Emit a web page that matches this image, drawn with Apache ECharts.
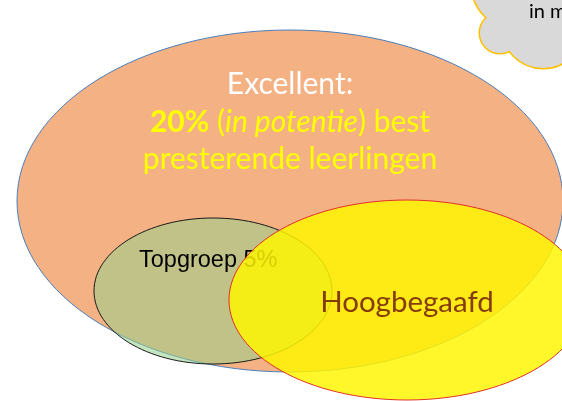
<!DOCTYPE html>
<html><head><meta charset="utf-8">
<script src="https://cdn.jsdelivr.net/npm/echarts@6/dist/echarts.min.js"></script>
<style>html,body{margin:0;padding:0;background:#fff}#c{width:562px;height:401px}</style>
</head><body><div id="c"></div>
<script>
// Sets of the diagram (ellipses): centre and radii in diagram units
const setNames   = ['Excellent', 'Topgroep', 'Hoogbegaafd'];
const setCenterX = [290, 213, 407];
const setCenterY = [201, 291, 300];
const setRadiusX = [273, 119, 178];
const setRadiusY = [171, 73, 100];
// Cloud (top right) bumps: centre x, centre y, radius
const cloudX = [515, 500, 543, 548];
const cloudY = [-15, 33, 27, 5];
const cloudR = [43, 20, 41, 45];
const cloudStroke = [true, true, true, false];
const cloudText = 'in m';

const fills   = ['#f4b183', 'rgba(150,208,140,0.55)', 'rgba(255,246,0,0.84)'];
const strokes = ['#4a7ebb', '#1a1a1a', '#e0302a'];

const chart = echarts.init(document.getElementById('c'), null, {renderer: 'canvas'});
const setData = setNames.map((n, i) => [setCenterX[i], setCenterY[i], setRadiusX[i], setRadiusY[i], i]);
const cloudData = cloudX.map((x, i) => [x, cloudY[i], cloudR[i], cloudStroke[i] ? 1 : 0]);
const calibri = 'Lato, "Open Sans", sans-serif';
function textTop(baseline, size) { return baseline - 0.79 * size; }

function labelFor(i, c, z) {
  if (i === 0) {
    const fs = 30;
    return [
      {type: 'text', z2: z, style: {x: c[0], y: textTop(93, fs), text: 'Excellent:', fill: '#ffffff',
        font: fs + 'px ' + calibri, align: 'center', verticalAlign: 'top'}},
      {type: 'text', z2: z, style: {x: c[0], y: textTop(131, fs),
        text: '{b|20%} ({i|in potentie}) best', fill: '#ffff00',
        font: fs + 'px ' + calibri, align: 'center', verticalAlign: 'top',
        rich: {b: {fontWeight: 'bold', fontSize: fs, fontFamily: calibri, fill: '#ffff00'},
               i: {fontStyle: 'italic', fontSize: fs, fontFamily: calibri, fill: '#ffff00'}}}},
      {type: 'text', z2: z, style: {x: c[0], y: textTop(168, fs), text: 'presterende leerlingen', fill: '#ffff00',
        font: fs + 'px ' + calibri, align: 'center', verticalAlign: 'top'}}
    ];
  }
  if (i === 1) {
    return [{type: 'text', z2: z, style: {x: c[0] - 74, y: textTop(267, 23.5), text: 'Topgroep 5%', fill: '#000',
      font: '23.5px "Liberation Sans", Arial, sans-serif', align: 'left', verticalAlign: 'top'}}];
  }
  return [{type: 'text', z2: z, style: {x: c[0], y: textTop(311, 29.5), text: 'Hoogbegaafd', fill: '#843c0c',
    font: '29.5px ' + calibri, align: 'center', verticalAlign: 'top'}}];
}

chart.setOption({
  animation: false,
  grid: {left: 0, right: 0, top: 0, bottom: 0},
  xAxis: {type: 'value', min: 0, max: 562, show: false},
  yAxis: {type: 'value', min: 0, max: 401, inverse: true, show: false},
  series: [
    {
      type: 'custom', z: 2, data: setData, clip: false,
      renderItem: function (params, api) {
        const i = api.value(4);
        const c = api.coord([api.value(0), api.value(1)]);
        const s = api.size([api.value(2), api.value(3)]);
        const children = [{
          type: 'ellipse', z2: 10 + i * 20,
          shape: {cx: c[0], cy: c[1], rx: s[0], ry: s[1]},
          style: {fill: fills[i], stroke: strokes[i], lineWidth: 1}
        }].concat(labelFor(i, c, i === 0 ? 100 : 15 + i * 20));
        return {type: 'group', children: children};
      }
    },
    {
      type: 'custom', z: 5, data: cloudData, clip: false,
      renderItem: function (params, api) {
        const c = api.coord([api.value(0), api.value(1)]);
        const r = api.size([api.value(2), 0])[0];
        const ch = [];
        if (api.value(3) === 1) {
          ch.push({type: 'circle', z2: 1, shape: {cx: c[0], cy: c[1], r: r},
            style: {fill: '#ffc000', stroke: '#ffc000', lineWidth: 3}});
        }
        ch.push({type: 'circle', z2: 2, shape: {cx: c[0], cy: c[1], r: r},
          style: {fill: '#d9d9d9'}});
        if (params.dataIndex === 0) {
          ch.push({type: 'text', z2: 5, style: {x: 529, y: 17 - 0.79 * 20, text: cloudText, fill: '#000',
            font: '20px ' + calibri, verticalAlign: 'top'}});
        }
        return {type: 'group', children: ch};
      }
    }
  ]
});
</script></body></html>
